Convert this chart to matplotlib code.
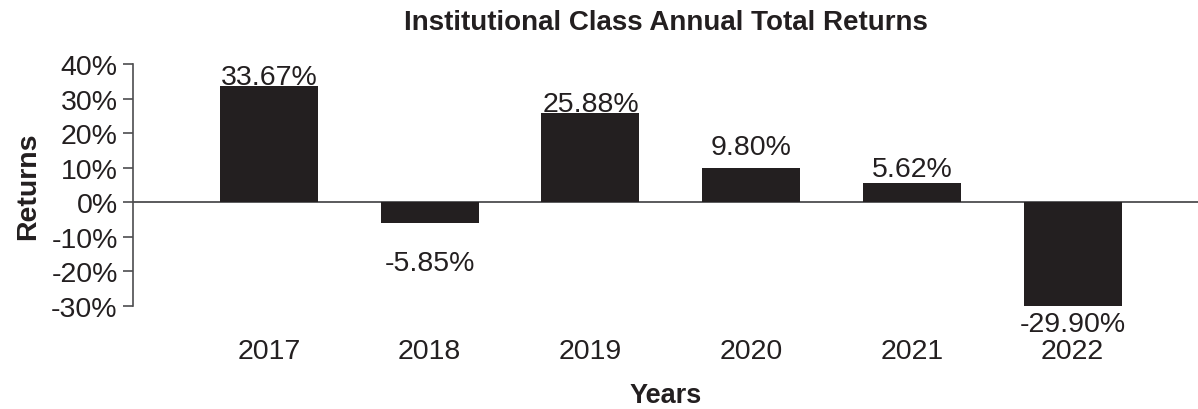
import matplotlib
matplotlib.use("Agg")
import matplotlib.pyplot as plt

plt.rcParams['font.family'] = ['Liberation Sans', 'DejaVu Sans']

years = ["2017", "2018", "2019", "2020", "2021", "2022"]
returns = [33.67, -5.85, 25.88, 9.80, 5.62, -29.90]
value_labels = ["33.67%", "-5.85%", "25.88%", "9.80%", "5.62%", "-29.90%"]
y_ticks = [-30, -20, -10, 0, 10, 20, 30, 40]
y_tick_labels = ["-30%", "-20%", "-10%", "0%", "10%", "20%", "30%", "40%"]

# label baseline offsets in pixels (style only)
label_offsets_px = [2, -47, 2, 14, 7, -25]

BAR = "#231f20"
TXT = "#231f20"
LINE = "#4d4d4f"

fig = plt.figure(figsize=(11.98, 4.10), dpi=100)
ax = fig.add_axes([133 / 1198, 1 - 307 / 410, 1065 / 1198, (307 - 65) / 410])

x = list(range(len(years)))
ax.bar(x, returns, width=0.61, color=BAR, zorder=2)
ax.axhline(0, color=LINE, linewidth=1.3, zorder=1)

ax.set_xlim(-0.846, 5.78)
ax.set_ylim(-30, 40)

for s in ["top", "right", "bottom"]:
    ax.spines[s].set_visible(False)
ax.spines["left"].set_color(LINE)
ax.spines["left"].set_linewidth(1.2)

ax.set_yticks(y_ticks)
ax.set_yticklabels(y_tick_labels)
ax.tick_params(axis="y", length=7, width=1.2, color=LINE, pad=4, labelsize=20.5, labelcolor=TXT)

ax.set_xticks(x)
ax.set_xticklabels(years)
ax.tick_params(axis="x", length=0, pad=23, labelsize=20.5, labelcolor=TXT)

for xi, v, lab, off in zip(x, returns, value_labels, label_offsets_px):
    ax.annotate(lab, xy=(xi, v), xytext=(0, off), textcoords="offset pixels",
                ha="center", va="baseline", fontsize=20.5, color=TXT)

ax.set_ylabel("Returns", fontsize=20.5, fontweight="bold", color=TXT, labelpad=7)
ax.set_xlabel("Years", fontsize=19.5, fontweight="bold", color=TXT, labelpad=13)
ax.set_title("Institutional Class Annual Total Returns", fontsize=20, fontweight="bold",
             color=TXT, pad=25)

fig.savefig("out.png", dpi=100, facecolor="white")
